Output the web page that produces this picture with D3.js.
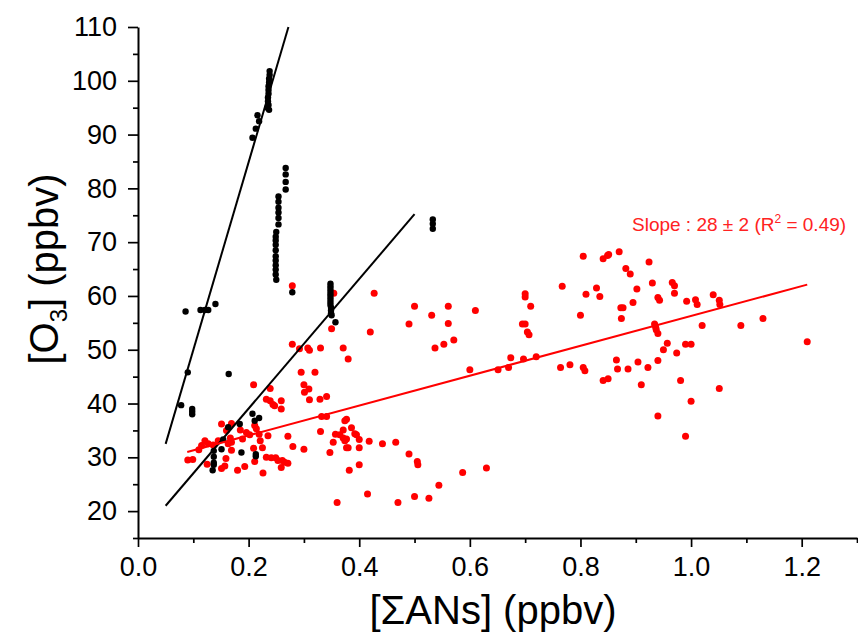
<!DOCTYPE html>
<html>
<head>
<meta charset="utf-8">
<script src="https://cdn.jsdelivr.net/npm/d3@7"></script>
<style>
  body { margin: 0; background: #fff; }
  svg text { font-family: Arial, "Liberation Sans", sans-serif; }
</style>
</head>
<body>
<script>
var width = 858;
var height = 633;

// ---- data ----
var xMajorTicks = [0.0, 0.2, 0.4, 0.6, 0.8, 1.0, 1.2];
var xMinorTicks = [0.1, 0.3, 0.5, 0.7, 0.9, 1.1, 1.3];
var yMajorTicks = [20, 30, 40, 50, 60, 70, 80, 90, 100, 110];
var yMinorTicks = [15, 25, 35, 45, 55, 65, 75, 85, 95, 105];

// red series [ΣANs, O3]
var redPoints = [
  [0.090,29.5],[0.099,29.6],[0.110,31.4],[0.115,32.2],[0.121,33.1],[0.127,32.5],[0.136,32.3],[0.125,28.7],
  [0.145,33.1],[0.151,36.2],[0.160,35.0],[0.157,28.4],[0.159,29.8],[0.151,27.9],[0.169,36.3],[0.167,33.6],
  [0.169,32.8],[0.163,32.5],[0.169,31.3],[0.180,27.6],[0.185,35.1],[0.189,33.4],[0.193,28.3],[0.196,34.6],
  [0.202,34.2],[0.209,43.5],[0.211,35.9],[0.214,35.3],[0.209,31.7],[0.211,29.2],[0.219,34.3],[0.221,33.1],
  [0.225,31.8],[0.226,27.1],[0.232,30.0],[0.235,34.0],[0.232,40.8],[0.239,42.8],[0.239,40.5],[0.244,39.8],
  [0.247,39.6],[0.241,29.9],[0.249,29.9],[0.253,29.4],[0.259,40.5],[0.259,39.0],[0.259,28.1],[0.261,29.4],
  [0.265,29.1],[0.271,33.9],[0.271,28.9],[0.280,32.0],[0.295,45.8],[0.300,43.5],[0.301,42.1],[0.300,31.5],
  [0.309,42.7],[0.310,40.7],[0.320,45.8],[0.329,40.8],[0.330,34.8],[0.341,41.3],[0.332,37.6],[0.341,37.6],
  [0.347,30.9],[0.353,32.8],[0.360,21.6],[0.365,34.2],[0.371,35.1],[0.374,36.8],[0.377,33.4],[0.380,31.8],
  [0.382,27.6],
  [0.279,61.9],[0.354,60.5],[0.350,53.9],[0.279,51.0],[0.292,50.2],[0.307,50.3],[0.310,49.9],[0.330,50.3],
  [0.427,60.5],[0.500,58.1],[0.561,58.1],[0.531,56.4],[0.490,54.8],[0.561,54.9],[0.610,57.3],[0.420,53.3],
  [0.371,50.3],[0.380,48.3],[0.537,50.3],[0.553,51.0],[0.571,51.8],[0.600,46.3],[0.651,46.3],[0.670,46.7],
  [0.674,48.5],[0.697,48.3],[0.720,48.7],[0.700,60.4],[0.700,59.8],[0.710,58.1],[0.695,54.8],[0.700,54.8],
  [0.704,53.3],[0.707,52.8],[0.767,61.8],[0.805,67.4],[0.810,60.3],[0.800,56.4],[0.829,61.5],[0.835,59.9],
  [0.841,66.9],[0.849,67.5],[0.764,46.7],[0.781,47.2],[0.805,46.7],[0.808,46.1],[0.841,44.3],[0.850,44.6],
  [0.377,37.1],[0.386,35.5],[0.357,34.3],[0.392,34.4],[0.395,34.2],[0.371,33.6],[0.374,33.1],[0.400,33.3],
  [0.418,33.0],[0.442,32.5],[0.466,32.8],[0.377,31.8],[0.400,31.8],[0.490,30.6],[0.505,29.2],[0.506,28.6],
  [0.400,28.6],[0.587,27.2],[0.630,28.0],[0.544,24.8],[0.415,23.2],[0.500,22.7],[0.526,22.4],[0.470,21.6],
  [0.851,67.7],[0.870,68.2],[0.924,66.3],[0.882,65.1],[0.890,64.1],[0.902,61.3],[0.930,62.4],[0.966,62.5],
  [0.970,61.9],[0.970,60.5],[0.895,58.8],[0.873,57.8],[0.877,57.8],[0.940,59.7],[0.943,59.2],[0.992,59.0],
  [1.008,59.3],[1.011,58.4],[1.040,60.2],[1.051,59.2],[1.052,58.4],[0.874,55.8],[0.934,54.8],[0.936,54.2],
  [0.937,53.7],[0.940,53.0],[1.020,54.5],[1.090,54.5],[1.130,55.8],[1.210,51.5],[0.957,51.2],[0.950,50.0],
  [0.990,51.0],[1.000,51.0],[0.974,49.4],[0.865,48.1],[0.867,46.4],[0.886,46.4],[0.904,47.7],[0.922,46.7],
  [0.940,48.0],[0.910,43.5],[0.981,44.3],[1.051,42.8],[1.000,40.4],[0.940,37.7],[0.990,33.9]
];

// black series [ΣANs, O3]
var blackPoints = [
  [0.238,101.8],[0.238,101.1],[0.237,100.4],[0.237,99.7],[0.236,99.0],[0.236,98.3],[0.236,97.6],[0.235,96.9],
  [0.235,96.2],[0.236,95.5],[0.234,95.0],[0.237,94.6],
  [0.216,93.6],[0.219,92.5],[0.213,91.1],[0.207,89.4],
  [0.267,83.8],[0.267,82.6],[0.267,81.2],[0.267,79.8],
  [0.254,78.5],[0.254,77.5],[0.254,76.4],[0.254,75.5],[0.254,74.5],[0.254,73.3],
  [0.250,71.9],[0.249,71.0],[0.249,70.3],[0.249,69.5],[0.249,68.5],[0.249,67.4],[0.249,66.6],[0.249,65.7],
  [0.249,64.9],[0.249,64.0],[0.250,63.0],
  [0.279,60.7],
  [0.348,62.3],[0.348,61.8],[0.348,61.3],[0.348,60.8],[0.348,60.3],[0.348,59.8],[0.348,59.3],[0.348,58.8],
  [0.348,58.3],[0.349,57.8],[0.349,57.3],[0.349,56.8],[0.350,56.4],[0.357,55.1],
  [0.533,74.2],[0.533,73.4],[0.533,72.5],
  [0.086,57.1],[0.113,57.4],[0.121,57.4],[0.127,57.4],[0.140,58.5],
  [0.090,45.8],[0.164,45.5],
  [0.078,39.7],[0.098,39.0],[0.098,38.5],[0.098,38.0],
  [0.207,38.1],[0.211,36.8],[0.219,37.3],[0.184,36.2],[0.163,35.6],[0.154,33.3],[0.151,31.5],
  [0.137,31.2],[0.137,30.1],[0.137,29.0],[0.137,28.6],[0.135,27.6],[0.187,30.9],[0.213,30.6],[0.213,30.2]
];

// fitted lines, end points
var steepLine = [[0.05, 32.5], [0.272, 110]];
var midLine = [[0.05, 21.0], [0.50, 75.2]];
var redLine = [[0.089, 31.0], [1.21, 62.1]];

var slopeLabel = "Slope : 28 \u00b1 2 (R";
var slopeLabelEnd = " = 0.49)";

// ---- chart ----
var margin = {left: 138, right: 1, top: 27, bottom: 95};

var x = d3.scaleLinear().domain([0, 1.3]).range([margin.left, width - margin.right]);
var y = d3.scaleLinear().domain([15, 110]).range([height - margin.bottom, margin.top]);

var svg = d3.select("body").append("svg")
    .attr("width", width)
    .attr("height", height);

// minor ticks
svg.append("g")
    .attr("transform", "translate(0," + y(15) + ")")
    .call(d3.axisBottom(x).tickValues(xMinorTicks).tickSize(5).tickFormat(""))
    .call(function(g) { g.select(".domain").remove(); });
svg.append("g")
    .attr("transform", "translate(" + x(0) + ",0)")
    .call(d3.axisLeft(y).tickValues(yMinorTicks).tickSize(5).tickFormat(""))
    .call(function(g) { g.select(".domain").remove(); });

var xAxis = svg.append("g")
    .attr("transform", "translate(0," + y(15) + ")")
    .call(d3.axisBottom(x).tickValues(xMajorTicks).tickSize(9).tickSizeOuter(0).tickPadding(10)
      .tickFormat(d3.format(".1f")));

var yAxis = svg.append("g")
    .attr("transform", "translate(" + x(0) + ",0)")
    .call(d3.axisLeft(y).tickValues(yMajorTicks).tickSize(10).tickSizeOuter(0).tickPadding(11));

svg.selectAll(".tick line").attr("stroke", "#000").attr("stroke-width", 1.7);
svg.selectAll(".domain").attr("stroke", "#000").attr("stroke-width", 2);
svg.selectAll(".tick text").attr("font-size", 27).attr("fill", "#000");

// points
svg.append("g").selectAll("circle")
    .data(redPoints)
    .enter().append("circle")
      .attr("cx", function(d) { return x(d[0]); })
      .attr("cy", function(d) { return y(d[1]); })
      .attr("r", 3.5)
      .attr("fill", "#f00");

svg.append("g").selectAll("circle")
    .data(blackPoints)
    .enter().append("circle")
      .attr("cx", function(d) { return x(d[0]); })
      .attr("cy", function(d) { return y(d[1]); })
      .attr("r", 3.2)
      .attr("fill", "#000");

// fit lines
var line = d3.line()
    .x(function(d) { return x(d[0]); })
    .y(function(d) { return y(d[1]); });

svg.append("path").datum(steepLine).attr("d", line)
    .attr("stroke", "#000").attr("stroke-width", 2).attr("fill", "none");
svg.append("path").datum(midLine).attr("d", line)
    .attr("stroke", "#000").attr("stroke-width", 2).attr("fill", "none");
svg.append("path").datum(redLine).attr("d", line)
    .attr("stroke", "#f00").attr("stroke-width", 2).attr("fill", "none");

// slope annotation
var note = svg.append("text")
    .attr("x", 632)
    .attr("y", 231)
    .attr("font-size", 19)
    .attr("fill", "#f22");
note.append("tspan").text(slopeLabel);
note.append("tspan").attr("font-size", 12).attr("dy", -8).text("2");
note.append("tspan").attr("dy", 8).text(slopeLabelEnd);

// axis titles
svg.append("text")
    .attr("x", 493)
    .attr("y", 624)
    .attr("text-anchor", "middle")
    .attr("font-size", 40)
    .text("[\u03a3ANs] (ppbv)");

var yt = svg.append("text")
    .attr("transform", "translate(58,269) rotate(-90)")
    .attr("text-anchor", "middle")
    .attr("font-size", 40);
yt.append("tspan").text("[O");
yt.append("tspan").attr("font-size", 24).attr("dy", 9).text("3");
yt.append("tspan").attr("dy", -9).text("] (ppbv)");
</script>
</body>
</html>
